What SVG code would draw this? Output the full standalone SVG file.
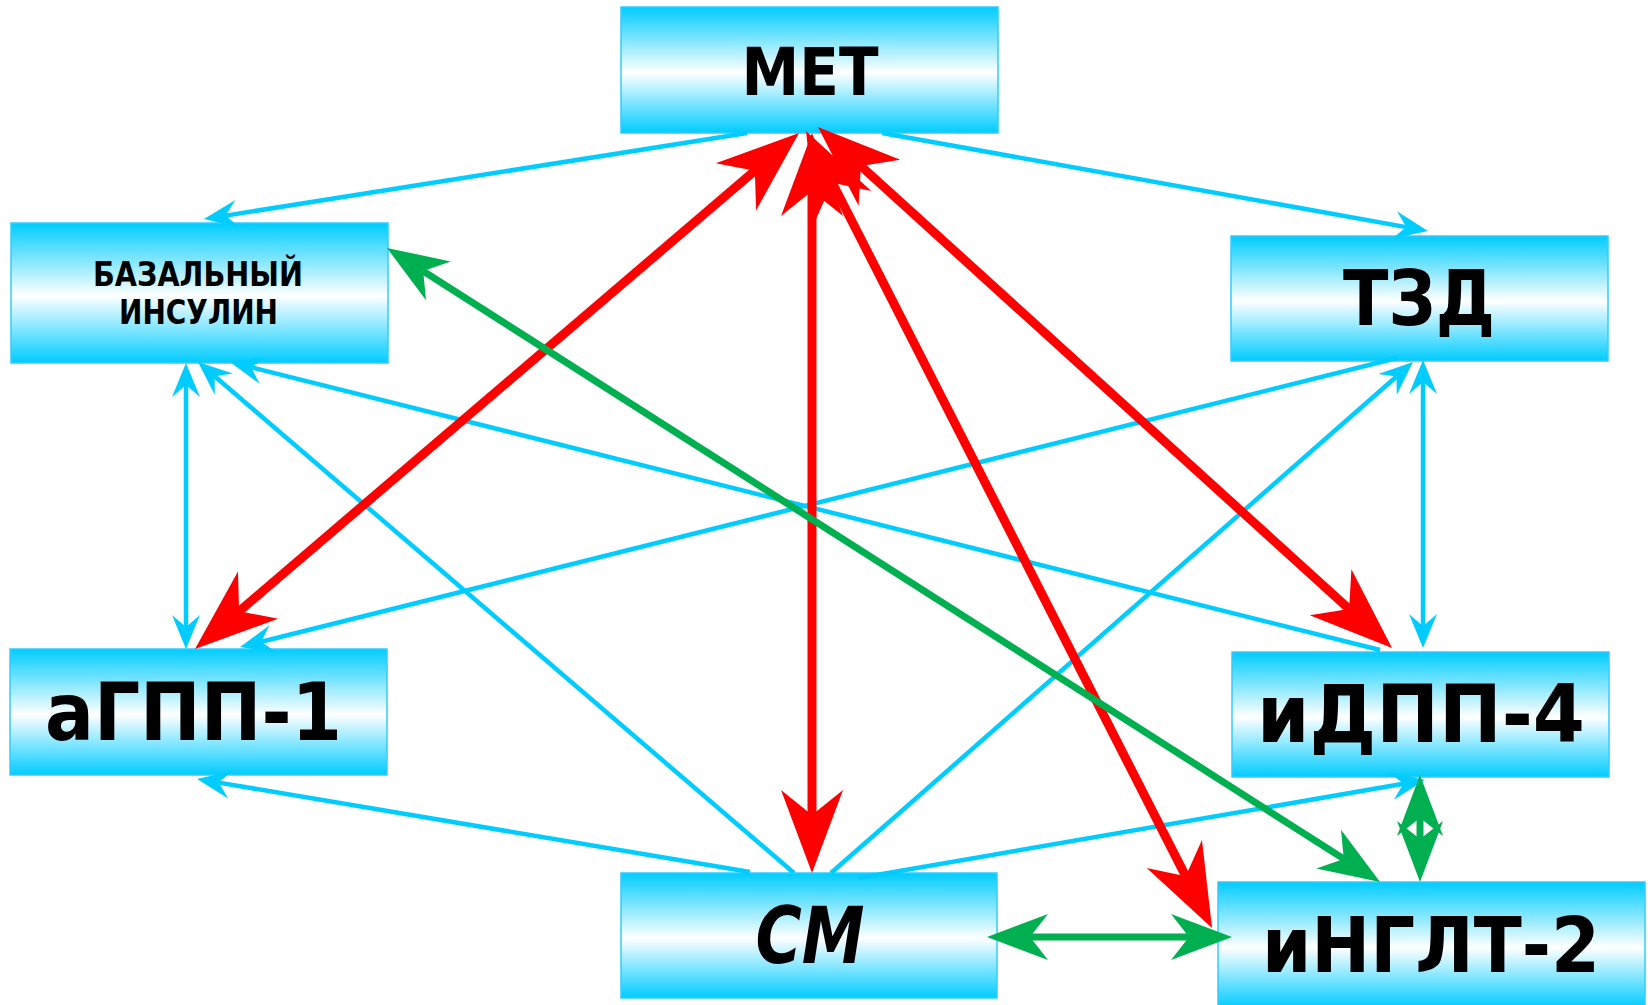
<svg xmlns="http://www.w3.org/2000/svg" width="1648" height="1005" viewBox="0 0 1648 1005">
  <style>
    .box { stroke: #33CCFF; stroke-width: 1.5; fill: url(#boxFill); }
    .lbl { font-family: "DejaVu Sans", "Liberation Sans", sans-serif; font-weight: bold; fill: #000; text-anchor: middle; }
    .cy { fill: none; stroke: #00CCFF; stroke-width: 4.5; }
    .rd { fill: none; stroke: #FF0000; stroke-width: 9; }
    .gr { fill: none; stroke: #00B050; stroke-width: 7; }
  </style>
  <defs>
    <linearGradient id="boxFill" x1="0" y1="0" x2="0" y2="1">
      <stop offset="0" stop-color="#00CCFF"/>
      <stop offset="0.52" stop-color="#FFFFFF"/>
      <stop offset="1" stop-color="#00CCFF"/>
    </linearGradient>
    <!-- arrowheads: origin sits at the notch, tip points along +x -->
    <marker id="hCy" markerUnits="userSpaceOnUse" orient="auto-start-reverse" overflow="visible" markerWidth="1" markerHeight="1" refX="0" refY="0">
      <path d="M22,0 L-12,-14 L0,0 L-12,14 Z" fill="#00CCFF"/>
    </marker>
    <marker id="hRd" markerUnits="userSpaceOnUse" orient="auto-start-reverse" overflow="visible" markerWidth="1" markerHeight="1" refX="0" refY="0">
      <path d="M58,0 L-25,-31 L0,0 L-25,31 Z" fill="#FF0000"/>
    </marker>
    <marker id="hGr" markerUnits="userSpaceOnUse" orient="auto-start-reverse" overflow="visible" markerWidth="1" markerHeight="1" refX="0" refY="0">
      <path d="M43,0 L-18,-23 L0,0 L-18,23 Z" fill="#00B050"/>
    </marker>
  </defs>

  <rect width="1648" height="1005" fill="#FFFFFF"/>

  <!-- nodes -->
  <g id="node-met">
    <rect class="box" x="621" y="7" width="377" height="126"/>
    <text class="lbl" x="810" y="95" font-size="66" textLength="137" lengthAdjust="spacingAndGlyphs">МЕТ</text>
  </g>
  <g id="node-basal">
    <rect class="box" x="11" y="223" width="377" height="140"/>
    <text class="lbl" x="198" y="286" font-size="33" textLength="210" lengthAdjust="spacingAndGlyphs">БАЗАЛЬНЫЙ</text>
    <text class="lbl" x="198.5" y="324" font-size="33" textLength="159" lengthAdjust="spacingAndGlyphs">ИНСУЛИН</text>
  </g>
  <g id="node-tzd">
    <rect class="box" x="1231" y="236" width="377" height="125"/>
    <text class="lbl" x="1419" y="325" font-size="76" textLength="152" lengthAdjust="spacingAndGlyphs">ТЗД</text>
  </g>
  <g id="node-aglp1">
    <rect class="box" x="10" y="649" width="377" height="126"/>
    <text class="lbl" x="193.5" y="740" font-size="80" textLength="297" lengthAdjust="spacingAndGlyphs">аГПП-1</text>
  </g>
  <g id="node-idpp4">
    <rect class="box" x="1232" y="652" width="377" height="125"/>
    <text class="lbl" x="1421" y="742" font-size="80" textLength="328" lengthAdjust="spacingAndGlyphs">иДПП-4</text>
  </g>
  <g id="node-sm">
    <rect class="box" x="621" y="873" width="376" height="125"/>
    <text class="lbl" x="810" y="963" font-size="78" font-style="italic" textLength="109" lengthAdjust="spacingAndGlyphs">СМ</text>
  </g>
  <g id="node-inglt2">
    <rect class="box" x="1218" y="882" width="427" height="126"/>
    <text class="lbl" x="1431" y="972" font-size="76" textLength="338" lengthAdjust="spacingAndGlyphs">иНГЛТ-2</text>
  </g>

  <!-- connectors -->
  <g id="connectors">
    <g id="links-cyan">
      <path class="cy" d="M747,133 L225.7,215.6" marker-end="url(#hCy)"/>
      <path class="cy" d="M882,133 L1406.3,227.1" marker-end="url(#hCy)"/>
      <path class="cy" d="M186,385 L186,627" marker-start="url(#hCy)" marker-end="url(#hCy)"/>
      <path class="cy" d="M794,873 L214.7,376.3" marker-end="url(#hCy)"/>
      <path class="cy" d="M1380,650 L251.3,367.3" marker-end="url(#hCy)"/>
      <path class="cy" d="M1397,358 L261.3,641.7" marker-end="url(#hCy)"/>
      <path class="cy" d="M831,873 L1396.5,376.5" marker-end="url(#hCy)"/>
      <path class="cy" d="M1423,382 L1423,626" marker-start="url(#hCy)" marker-end="url(#hCy)"/>
      <path class="cy" d="M750,872 L218.7,782.6" marker-end="url(#hCy)"/>
      <path class="cy" d="M859,878 L1403.3,783.8" marker-end="url(#hCy)"/>
    </g>
    <g id="links-red">
      <path class="rd" d="M812,191 L812,815" marker-start="url(#hRd)" marker-end="url(#hRd)"/>
      <path class="rd" d="M754.9,170.7 L239.1,611.3" marker-start="url(#hRd)" marker-end="url(#hRd)"/>
      <path class="rd" d="M860.9,166 L1349.1,609" marker-start="url(#hRd)" marker-end="url(#hRd)"/>
      <path class="rd" d="M832.3,182.7 L1185.7,876.3" marker-start="url(#hRd)" marker-end="url(#hRd)"/>
    </g>
    <g id="links-green">
      <path class="gr" d="M1343.8,858.9 L423.2,271.1" marker-start="url(#hGr)" marker-end="url(#hGr)"/>
      <path class="gr" d="M1030,937 L1189,937" marker-start="url(#hGr)" marker-end="url(#hGr)"/>
      <path class="gr" d="M1420,818 L1420,839" marker-start="url(#hGr)" marker-end="url(#hGr)"/>
    </g>
  </g>
</svg>
